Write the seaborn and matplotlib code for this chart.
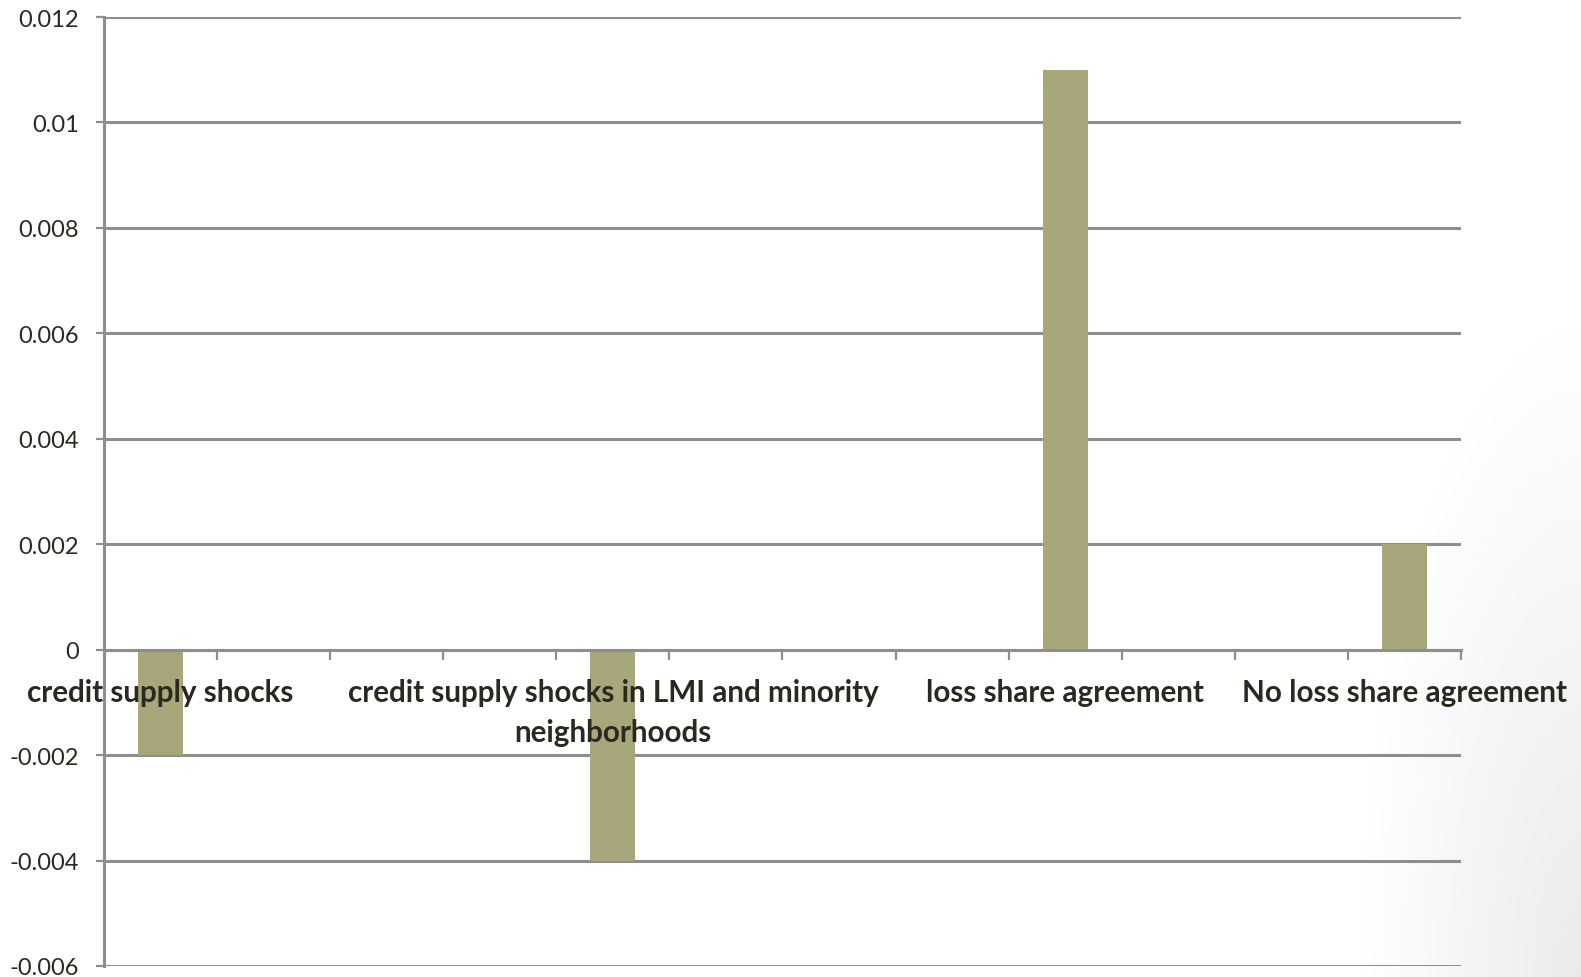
import numpy as np
import pandas as pd
import matplotlib
matplotlib.use("Agg")
import matplotlib.pyplot as plt
import seaborn as sns

# ---- data ----
slot_count = 12
labels = ["credit supply shocks",
          "credit supply shocks in LMI and minority\nneighborhoods",
          "loss share agreement",
          "No loss share agreement"]
label_slots = [0, 4, 8, 11]
values = [-0.002, -0.004, 0.011, 0.002]
y_ticks = [-0.006, -0.004, -0.002, 0, 0.002, 0.004, 0.006, 0.008, 0.01, 0.012]
y_tick_labels = ["-0.006", "-0.004", "-0.002", "0", "0.002", "0.004",
                 "0.006", "0.008", "0.01", "0.012"]

slot_values = [np.nan] * slot_count
for s, v in zip(label_slots, values):
    slot_values[s] = v
df = pd.DataFrame({"slot": list(range(slot_count)), "value": slot_values})

sns.set_theme(style="white")
plt.rcParams['font.family'] = ['Lato', 'DejaVu Sans']

GRID = "#8e8e8e"
TXT = "#2a2920"
BAR = "#a8a67b"

fig = plt.figure(figsize=(15.81, 9.78), dpi=100)
fig.patch.set_facecolor("white")

# subtle slide background gradient at the bottom right
h, w = 978, 1581
yy, xx = np.mgrid[0:h, 0:w]
d = np.sqrt(((xx - w) / 220.0) ** 2 + ((yy - h) / 650.0) ** 2)
shade = 1.0 - 0.08 * np.clip(1 - d, 0, 1)
img = np.dstack([shade, shade, shade])
fig.figimage(img, xo=0, yo=0, origin="upper", zorder=-10)

ax = fig.add_axes([104 / 1581, 1 - 967 / 978, (1461 - 104) / 1581, (967 - 18) / 978])
ax.set_zorder(5)
ax.patch.set_alpha(0)

sns.barplot(data=df, x="slot", y="value", order=list(range(slot_count)),
            color=BAR, saturation=1, width=0.4, linewidth=0, ax=ax, zorder=3)

ax.set_ylim(-0.006, 0.012)
ax.set_xlim(-0.5, slot_count - 0.5)
ax.set_yticks(y_ticks)
ax.set_yticklabels(y_tick_labels)
ax.set_xticks(label_slots)
ax.set_xticklabels(labels)
ax.set_xticks([i + 0.5 for i in range(slot_count)], minor=True)
ax.set_xlabel("")
ax.set_ylabel("")

ax.yaxis.grid(True, color=GRID, linewidth=2.2)
ax.yaxis.set_zorder(0.5)
ax.xaxis.set_zorder(5)

for side in ["top", "right"]:
    ax.spines[side].set_visible(False)
ax.spines["bottom"].set_position(("data", 0))
ax.spines["bottom"].set_color(GRID)
ax.spines["bottom"].set_linewidth(2.2)
ax.spines["bottom"].set_zorder(4)
ax.spines["left"].set_color(GRID)
ax.spines["left"].set_linewidth(2.2)

ax.tick_params(axis="y", which="major", direction="out", length=6, width=1.6,
               color=GRID, pad=12, labelsize=17, labelcolor=TXT, left=True)
ax.tick_params(axis="x", which="major", length=0, pad=20.5, labelsize=21.3,
               labelcolor=TXT, bottom=True)
ax.tick_params(axis="x", which="minor", direction="out", length=7, width=1.6,
               color=GRID, bottom=True)
for lbl in ax.get_xticklabels():
    lbl.set_fontweight("bold")
    lbl.set_linespacing(1.5)

fig.savefig("out.png", dpi=100)
